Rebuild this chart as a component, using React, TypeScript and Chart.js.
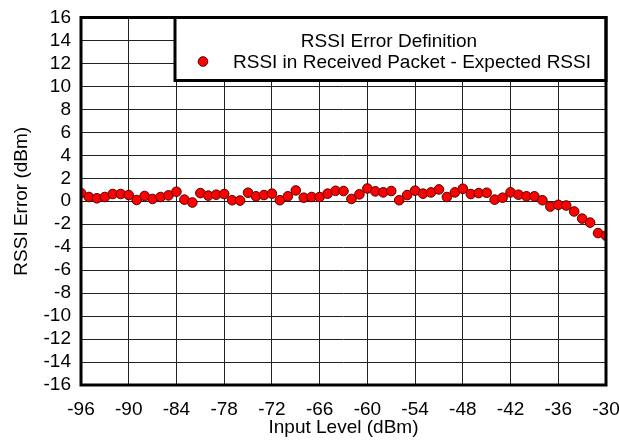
import React, { useEffect, useRef } from "react";
import { Chart, registerables } from "chart.js";

Chart.register(...registerables);

const inputLevels: number[] = [];
for (let v = -96; v <= -30; v++) inputLevels.push(v);

const rssiError: number[] = [
  0.71, 0.37, 0.26, 0.37, 0.63, 0.63, 0.54, 0.11, 0.46, 0.2, 0.37, 0.51, 0.83, 0.14, -0.11, 0.71,
  0.49, 0.57, 0.63, 0.09, 0.06, 0.74, 0.43, 0.54, 0.66, 0.09, 0.43, 0.94, 0.31, 0.37, 0.37, 0.66,
  0.91, 0.89, 0.2, 0.6, 1.11, 0.86, 0.77, 0.89, 0.09, 0.54, 0.92, 0.66, 0.77, 1.03, 0.37, 0.77,
  1.09, 0.63, 0.71, 0.74, 0.14, 0.31, 0.77, 0.57, 0.43, 0.43, 0.09, -0.46, -0.31, -0.37, -0.89,
  -1.51, -1.86, -2.77, -3.0,
];

const xTicks = [-96, -90, -84, -78, -72, -66, -60, -54, -48, -42, -36, -30];
const legendTitle = "RSSI Error Definition";
const seriesLabel = "RSSI in Received Packet - Expected RSSI";

const FONT = "'Liberation Sans', Arial, sans-serif";
const FS = 19;

const frame = {
  id: "frame",
  afterDraw(chart: any) {
    const { ctx, chartArea: a } = chart;
    ctx.save();
    // legend box
    const bx = 175, by = a.top, bw = a.right - bx, bh = 63;
    ctx.fillStyle = "#fff";
    ctx.fillRect(bx, by, bw, bh);
    ctx.strokeStyle = "#000";
    ctx.lineWidth = 3;
    ctx.strokeRect(bx, by, bw, bh);
    ctx.fillStyle = "#000";
    ctx.font = `${FS}px ${FONT}`;
    ctx.textAlign = "center";
    ctx.textBaseline = "alphabetic";
    ctx.fillText(legendTitle, 389, 47);
    ctx.textAlign = "left";
    ctx.fillText(seriesLabel, 233, 68);
    ctx.beginPath();
    ctx.arc(203, 61.5, 4.8, 0, Math.PI * 2);
    ctx.fillStyle = "#ff0000";
    ctx.fill();
    ctx.lineWidth = 1;
    ctx.strokeStyle = "#550000";
    ctx.stroke();
    // plot border
    ctx.strokeStyle = "#000";
    ctx.lineWidth = 3;
    ctx.strokeRect(a.left, a.top, a.right - a.left, a.bottom - a.top);
    ctx.restore();
  },
};

export default function App() {
  const ref = useRef<HTMLCanvasElement>(null);
  useEffect(() => {
    const chart = new Chart(ref.current!, {
      type: "scatter",
      data: {
        datasets: [
          {
            label: seriesLabel,
            data: inputLevels.map((x, i) => ({ x, y: rssiError[i] })),
            backgroundColor: "#ff0000",
            borderColor: "#550000",
            borderWidth: 1,
            pointRadius: 4.8,
            showLine: false,
          },
        ],
      },
      options: {
        animation: false,
        responsive: false,
        layout: { padding: { top: 17.5, right: 13, left: 0, bottom: 0 } },
        plugins: { legend: { display: false }, tooltip: { enabled: false } },
        scales: {
          x: {
            type: "linear",
            min: -96,
            max: -30,
            afterBuildTicks: (s: any) => {
              s.ticks = xTicks.map((v) => ({ value: v }));
            },
            afterFit: (s: any) => {
              s.height = 55;
              s.paddingLeft = 0;
              s.paddingRight = 0;
            },
            grid: { color: "#222", lineWidth: 1, drawTicks: false },
            border: { display: false },
            ticks: {
              color: "#000",
              font: { family: FONT, size: FS },
              padding: 13,
              maxRotation: 0,
              autoSkip: false,
            },
            title: {
              display: true,
              text: "Input Level (dBm)",
              color: "#000",
              font: { family: FONT, size: FS },
              padding: { top: 0, bottom: 1 },
            },
          },
          y: {
            min: -16,
            max: 16,
            afterFit: (s: any) => {
              s.width = 81;
              s.paddingTop = 0;
              s.paddingBottom = 0;
            },
            grid: { color: "#222", lineWidth: 1, drawTicks: false },
            border: { display: false },
            ticks: {
              stepSize: 2,
              color: "#000",
              font: { family: FONT, size: FS },
              padding: 10,
              autoSkip: false,
            },
            title: {
              display: true,
              text: "RSSI Error (dBm)",
              color: "#000",
              font: { family: FONT, size: FS },
              padding: { top: 10, bottom: 0 },
            },
          },
        },
      },
      plugins: [frame],
    });
    return () => chart.destroy();
  }, []);
  return (
    <div style={{ position: "fixed", left: 0, top: 0, width: 619, height: 440, background: "#fff" }}>
      <canvas ref={ref} width={619} height={440} />
    </div>
  );
}
